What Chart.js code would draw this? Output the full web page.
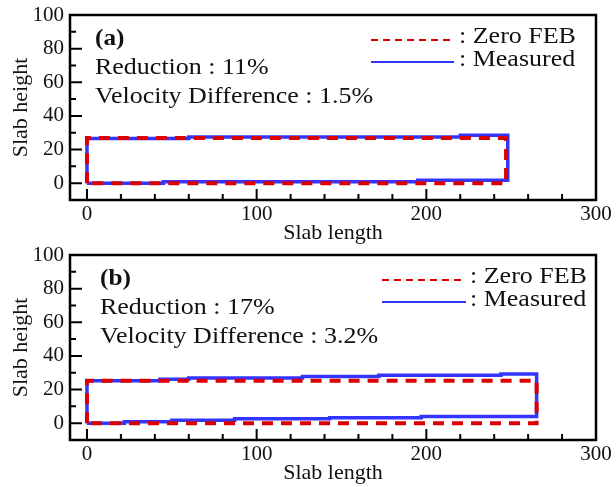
<!DOCTYPE html>
<html><head><meta charset="utf-8">
<script src="https://cdn.jsdelivr.net/npm/chart.js@4.4.1/dist/chart.umd.min.js"></script>
<style>
html,body{margin:0;padding:0;background:#fff;width:616px;height:487px;overflow:hidden}
.c{position:absolute;left:0}
canvas{display:block}
</style></head><body>
<div class="c" style="top:0"><canvas id="ca" width="616" height="246"></canvas></div>
<div class="c" style="top:246px"><canvas id="cb" width="616" height="241"></canvas></div>
<script>
// ---- data ----
const xTicks = [0, 100, 200, 300];
const yTicks = [0, 20, 40, 60, 80, 100];
const xMinor = [20, 40, 60, 80, 120, 140, 160, 180, 220, 240, 260, 280];
const yMinor = [10, 30, 50, 70, 90];
const seriesNames = ['Zero FEB', 'Measured'];

// panel (a)
const aZeroX = [0, 0, 247, 247, 0];
const aZeroY = [0, 26.8, 26.8, 0, 0];
const aMeasX = [0, 0, 60, 60, 220, 220, 248, 248, 195, 195, 45, 45, 0];
const aMeasY = [0, 26.5, 26.5, 27.5, 27.5, 28.5, 28.5, 1.8, 1.8, 0.8, 0.8, 0, 0];
const aTexts = ['(a)', 'Reduction : 11%', 'Velocity Difference : 1.5%'];

// panel (b)
const bZeroX = [0, 0, 265, 265, 0];
const bZeroY = [0, 25.2, 25.2, 0, 0];
const bMeasX = [0, 0, 43, 43, 60, 60, 127, 127, 172, 172, 244, 244, 265, 265, 197, 197, 143, 143, 87, 87, 50, 50, 22, 22, 0];
const bMeasY = [0, 25.2, 25.2, 26.1, 26.1, 26.9, 26.9, 27.7, 27.7, 28.5, 28.5, 29.3, 29.3, 3.9, 3.9, 3.3, 3.3, 2.7, 2.7, 1.8, 1.8, 0.8, 0.8, 0, 0];
const bTexts = ['(b)', 'Reduction : 17%', 'Velocity Difference : 3.2%'];

// ---- styles ----
const SERIF = "'Liberation Serif', 'Times New Roman', serif";
const RED = '#dd0000';
const BLUE = '#3434ff';
const INK = '#111111';

function zip(xs, ys) { return xs.map((v, i) => ({x: v, y: ys[i]})); }

function sText(ctx, txt, x, y, font, sx) {
  ctx.save();
  ctx.font = font; ctx.fillStyle = INK; ctx.textBaseline = 'middle'; ctx.textAlign = 'left';
  ctx.translate(x, y); ctx.scale(sx, 1); ctx.fillText(txt, 0, 0);
  ctx.restore();
}

function makeChart(id, H, padTop, titlePadBottom, zx, zy, mx, my, texts, L) {
  const deco = {
    id: 'deco',
    afterDraw(chart) {
      const {ctx, chartArea: a, scales: {x, y}} = chart;
      ctx.save();
      ctx.strokeStyle = '#000';
      ctx.lineWidth = 2;
      ctx.beginPath();
      xTicks.forEach(v => { const p = x.getPixelForValue(v); ctx.moveTo(p, a.bottom); ctx.lineTo(p, a.bottom - 11); });
      xMinor.forEach(v => { const p = x.getPixelForValue(v); ctx.moveTo(p, a.bottom); ctx.lineTo(p, a.bottom - 6); });
      yTicks.forEach(v => { const p = y.getPixelForValue(v); ctx.moveTo(a.left, p); ctx.lineTo(a.left + 12, p); });
      yMinor.forEach(v => { const p = y.getPixelForValue(v); ctx.moveTo(a.left, p); ctx.lineTo(a.left + 6, p); });
      ctx.stroke();
      ctx.lineWidth = 2.5;
      ctx.strokeRect(a.left, a.top, a.right - a.left, a.bottom - a.top);
      // annotations
      sText(ctx, texts[0], L.tx, a.top + 24, "bold 23px " + SERIF, 1.1);
      sText(ctx, texts[1], L.tx, a.top + 52.5, "23px " + SERIF, 1.13);
      sText(ctx, texts[2], L.tx, a.top + 82, "23px " + SERIF, 1.13);
      // legend
      ctx.lineWidth = 2;
      ctx.strokeStyle = RED; ctx.setLineDash([7, 5]);
      ctx.beginPath(); ctx.moveTo(L.lx0, a.top + 25); ctx.lineTo(L.lx1, a.top + 25); ctx.stroke();
      ctx.setLineDash([]); ctx.strokeStyle = BLUE;
      ctx.beginPath(); ctx.moveTo(L.lx0, a.top + 47); ctx.lineTo(L.lx1, a.top + 47); ctx.stroke();
      sText(ctx, ': ' + seriesNames[0], L.lt, a.top + 21.5, "23px " + SERIF, 1.13);
      sText(ctx, ': ' + seriesNames[1], L.lt, a.top + 45, "23px " + SERIF, 1.13);
      ctx.restore();
    }
  };
  return new Chart(document.getElementById(id), {
    type: 'scatter',
    data: {datasets: [
      {label: seriesNames[0], data: zip(zx, zy), showLine: true, borderColor: RED, borderWidth: 4,
       borderDash: [11, 8], pointRadius: 0, fill: false, tension: 0, order: 0},
      {label: seriesNames[1], data: zip(mx, my), showLine: true, borderColor: BLUE, borderWidth: 3.5,
       pointRadius: 0, fill: false, tension: 0, order: 1}
    ]},
    options: {
      responsive: false, animation: false, devicePixelRatio: 1,
      layout: {padding: {left: 0, right: 20, top: padTop, bottom: 0}},
      plugins: {legend: {display: false}, tooltip: {enabled: false}},
      scales: {
        x: {
          type: 'linear', min: -10, max: 300,
          grid: {display: false, drawTicks: false}, border: {display: false},
          afterBuildTicks: s => { s.ticks = xTicks.map(v => ({value: v})); },
          ticks: {font: {family: SERIF, size: 21}, color: INK, padding: 2, maxRotation: 0, autoSkip: false},
          title: {display: true, text: 'Slab length', font: {family: SERIF, size: 22}, color: INK,
                  padding: {top: 0, bottom: titlePadBottom}},
          afterFit: s => { s.height = H - (padTop + 185); s.paddingLeft = 0; s.paddingRight = 0; }
        },
        y: {
          type: 'linear', min: -10, max: 100,
          grid: {display: false, drawTicks: false}, border: {display: false},
          afterBuildTicks: s => { s.ticks = yTicks.map(v => ({value: v})); },
          ticks: {font: {family: SERIF, size: 21}, color: INK, padding: 6},
          title: {display: true, text: 'Slab height', font: {family: SERIF, size: 22}, color: INK,
                  padding: {top: 8, bottom: 0}},
          afterFit: s => { s.width = 70; s.paddingTop = 0; s.paddingBottom = 0; }
        }
      }
    },
    plugins: [deco]
  });
}

makeChart('ca', 246, 15, 0, aZeroX, aZeroY, aMeasX, aMeasY, aTexts, {tx: 95, lx0: 371, lx1: 454, lt: 459});
makeChart('cb', 241, 9, 1, bZeroX, bZeroY, bMeasX, bMeasY, bTexts, {tx: 100, lx0: 382, lx1: 466, lt: 470});
</script>
</body></html>
